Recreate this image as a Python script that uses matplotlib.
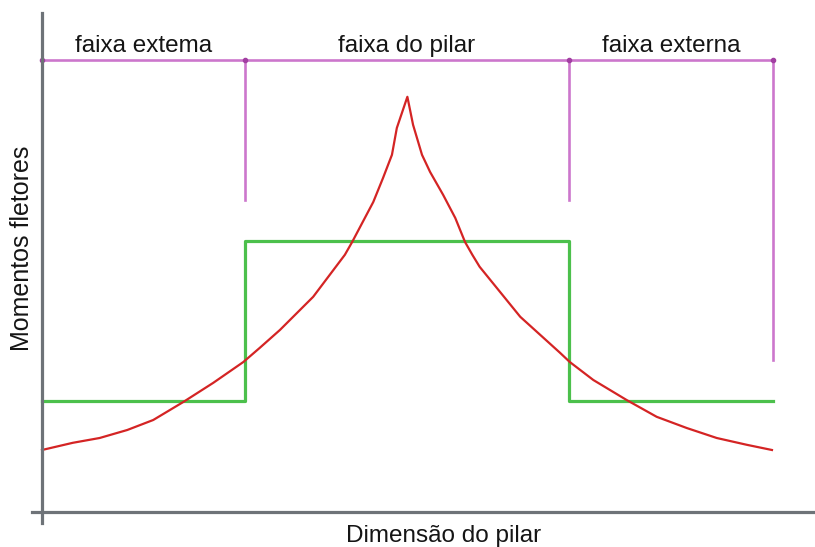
import numpy as np
import matplotlib
matplotlib.use('Agg')
import matplotlib.pyplot as plt

# strip limits along the pilar dimension
strip_edges = [0.0, 2.5, 6.49, 9.0]
strip_names = ['faixa extema', 'faixa do pilar', 'faixa externa']

# moment assumed constant in each strip
strip_moment = [2.78, 6.78, 2.78]

# actual bending moment along the section
x_moment = [0.0, 0.38, 0.71, 1.05, 1.37, 1.74, 2.11, 2.48, 2.68, 2.93, 3.34,
            3.73, 3.82, 3.95, 4.08, 4.20, 4.31, 4.37, 4.50, 4.57, 4.68, 4.78,
            4.94, 5.09, 5.21, 5.30, 5.39, 5.89, 6.38, 6.50, 6.79, 7.20, 7.57,
            7.94, 8.31, 8.68, 8.99]
y_moment = [1.55, 1.73, 1.85, 2.05, 2.30, 2.75, 3.23, 3.75, 4.10, 4.55, 5.38,
            6.43, 6.75, 7.25, 7.75, 8.35, 8.93, 9.60, 10.38, 9.68, 8.93, 8.50,
            7.93, 7.35, 6.75, 6.43, 6.13, 4.88, 3.98, 3.75, 3.30, 2.80, 2.38,
            2.10, 1.85, 1.68, 1.55]

# strip divider lines (top level and where each vertical ends)
top_level = 11.3
divider_ends = [7.8, 7.8, 3.8]

plt.rcParams['font.family'] = ['Liberation Sans', 'DejaVu Sans']

fig = plt.figure(figsize=(8.15, 5.47), dpi=100)
ax = fig.add_axes([0, 0, 1, 1])
ax.set_xlim(-0.517, 9.52)
ax.set_ylim(-0.875, 12.8)

purple = '#cc77cc'
ax.plot([strip_edges[0], strip_edges[-1]], [top_level, top_level], color=purple, lw=1.9)
for xe, ye in zip(strip_edges[1:], divider_ends):
    ax.plot([xe, xe], [top_level, ye], color=purple, lw=1.9)
ax.plot(strip_edges, [top_level] * len(strip_edges), 'o', color='#a23fa2', ms=3)

# stepped distribution
xs = []
ys = []
for i, m in enumerate(strip_moment):
    xs += [strip_edges[i], strip_edges[i + 1]]
    ys += [m, m]
ax.plot(xs, ys, color='#4cc04c', lw=2.3)

ax.plot(x_moment, y_moment, color='#d42424', lw=1.6, solid_joinstyle='round')

for i, name in enumerate(strip_names):
    xc = (strip_edges[i] + strip_edges[i + 1]) / 2
    ax.text(xc, top_level + 0.35, name, ha='center', va='center',
            fontsize=17.5, color='#151515')

ax.text(-0.25, 6.6, 'Momentos fletores', rotation=90, ha='center', va='center',
        fontsize=18, color='#151515')
ax.text(4.95, -0.6, 'Dimensão do pilar', ha='center', va='center',
        fontsize=17.5, color='#151515')

# axis lines
for s in ['top', 'right']:
    ax.spines[s].set_visible(False)
ax.spines['left'].set_position(('data', 0))
ax.spines['bottom'].set_position(('data', 0))
ax.spines['left'].set_bounds(-0.28, 12.48)
ax.spines['bottom'].set_bounds(-0.12, 9.52)
for s in ['left', 'bottom']:
    ax.spines[s].set_color('#6e7378')
    ax.spines[s].set_linewidth(2.3)
ax.set_xticks([])
ax.set_yticks([])
ax.patch.set_alpha(0)

fig.savefig('out.png', dpi=100)
